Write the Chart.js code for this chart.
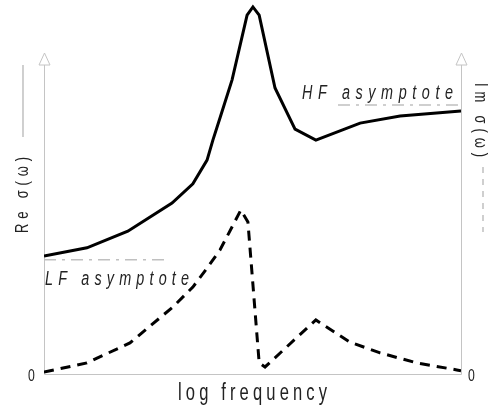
<!DOCTYPE html>
<html><head><meta charset="utf-8">
<script src="https://cdn.jsdelivr.net/npm/chart.js@4/dist/chart.umd.min.js"></script>
<style>html,body{margin:0;padding:0;background:#fff}canvas{display:block}</style>
</head><body>
<canvas id="c" width="503" height="406"></canvas>
<script>
// ---- data (log frequency on x, arbitrary units on y) ----
const freqRe = [0, 1.03, 2.01, 3.07, 3.57, 3.91, 4.05, 4.22, 4.51, 4.87, 5.01, 5.16, 5.54, 6.02, 6.52, 7.58, 8.54, 10];
const reSigma = [31.9, 34.1, 38.6, 46.2, 51.4, 57.8, 63.2, 69.2, 79.5, 97.0, 99.2, 97.0, 77.3, 66.2, 63.2, 67.8, 69.7, 71.1];
const freqIm = [0, 1.03, 2.06, 3.09, 3.57, 3.91, 4.22, 4.72, 4.89, 5.16, 5.30, 6.52, 7.34, 8.06, 8.94, 9.9, 10];
const imSigma = [0.5, 3.0, 8.4, 18.1, 23.5, 28.6, 33.5, 44.3, 41.1, 3.0, 1.9, 14.6, 8.6, 5.7, 3.0, 1.1, 0.9];
const lfAsymX = [0, 2.95];
const lfAsymValue = 30.9;
const hfAsymX = [7.05, 10];
const hfAsymValue = 72.7;
const xTitle = "log frequency";
const yLeftTitle = "Re σ(ω)";
const yRightTitle = "Im σ(ω)";
const lfLabel = "LF asymptote";
const hfLabel = "HF asymptote";
const zeroTick = "0";

const pts = (xs, ys) => xs.map((x, i) => ({x, y: ys[i]}));

function spaced(ctx, text, targetW, font, sx) {
  ctx.font = font;
  ctx.letterSpacing = '0px';
  const w = ctx.measureText(text).width;
  const n = [...text].length;
  const ls = (targetW / sx - w) / (n - 1);
  ctx.scale(sx, 1);
  ctx.letterSpacing = ls + 'px';
  ctx.fillText(text, 0, 0);
}

const decor = {
  id: 'decor',
  beforeDatasetsDraw(chart) {
    const ctx = chart.ctx;
    const xs = chart.scales.x, ys = chart.scales.y;
    const L = xs.getPixelForValue(0), R = xs.getPixelForValue(10), B = ys.getPixelForValue(0);
    const T = 53;
    ctx.save();
    ctx.strokeStyle = '#c4c4c4';
    ctx.lineWidth = 1;
    ctx.beginPath();
    ctx.moveTo(L + 0.5, T + 12); ctx.lineTo(L + 0.5, B + 0.5); ctx.lineTo(R + 0.5, B + 0.5); ctx.lineTo(R + 0.5, T + 12);
    ctx.stroke();
    [L, R].forEach(px => {
      ctx.beginPath();
      ctx.moveTo(px + 0.5, T); ctx.lineTo(px + 6, T + 12); ctx.lineTo(px - 5, T + 12); ctx.closePath();
      ctx.fillStyle = '#fff'; ctx.fill(); ctx.stroke();
    });
    // legend sample lines beside axis titles
    ctx.strokeStyle = '#b0b0b0';
    ctx.lineWidth = 1.2;
    ctx.beginPath(); ctx.moveTo(23, 65); ctx.lineTo(23, 137); ctx.stroke();
    ctx.setLineDash([6, 6]);
    ctx.beginPath(); ctx.moveTo(483, 167); ctx.lineTo(483, 232); ctx.stroke();
    ctx.setLineDash([]);
    ctx.restore();
  },
  afterDraw(chart) {
    const ctx = chart.ctx;
    const xs = chart.scales.x, ys = chart.scales.y;
    const B = ys.getPixelForValue(0);
    const fam = '"Liberation Sans", Arial, sans-serif';
    const sx = 0.72;
    ctx.save();
    ctx.fillStyle = '#222';
    ctx.textBaseline = 'alphabetic';
    ctx.textAlign = 'left';
    // zeros
    ctx.font = '17px ' + fam;
    ctx.save(); ctx.translate(28, B + 7); ctx.scale(sx, 1); ctx.fillText(zeroTick, 0, 0); ctx.restore();
    ctx.save(); ctx.translate(468, B + 7); ctx.scale(sx, 1); ctx.fillText(zeroTick, 0, 0); ctx.restore();
    // x title
    ctx.save(); ctx.translate(178, 400); spaced(ctx, xTitle, 149, '23px ' + fam, sx); ctx.restore();
    // left title
    ctx.save(); ctx.translate(28, 233); ctx.rotate(-Math.PI / 2); spaced(ctx, yLeftTitle, 76, '18px ' + fam, sx); ctx.restore();
    // right title
    ctx.save(); ctx.translate(475, 83); ctx.rotate(Math.PI / 2); spaced(ctx, yRightTitle, 74, '18px ' + fam, sx); ctx.restore();
    // asymptote labels
    ctx.save(); ctx.translate(xs.getPixelForValue(hfAsymX[0]) - 36, 99); spaced(ctx, hfLabel, 151, 'italic 20px ' + fam, sx); ctx.restore();
    ctx.save(); ctx.translate(xs.getPixelForValue(lfAsymX[0]) + 1, 285); spaced(ctx, lfLabel, 144, 'italic 20px ' + fam, sx); ctx.restore();
    ctx.restore();
  }
};

new Chart(document.getElementById('c'), {
  type: 'line',
  data: {
    datasets: [
      {label: 'LF asymptote', data: pts(lfAsymX, [lfAsymValue, lfAsymValue]), borderColor: '#c0c0c0', borderWidth: 1.5, borderDash: [12, 6, 3, 6], pointRadius: 0},
      {label: 'HF asymptote', data: pts(hfAsymX, [hfAsymValue, hfAsymValue]), borderColor: '#c0c0c0', borderWidth: 1.5, borderDash: [12, 6, 3, 6], pointRadius: 0},
      {label: yLeftTitle, data: pts(freqRe, reSigma), borderColor: '#000', borderWidth: 3, pointRadius: 0, tension: 0, borderJoinStyle: 'miter'},
      {label: yRightTitle, data: pts(freqIm, imSigma), borderColor: '#000', borderWidth: 3, borderDash: [10, 7], pointRadius: 0, tension: 0}
    ]
  },
  options: {
    responsive: false,
    devicePixelRatio: 1,
    animation: false,
    layout: {padding: {left: 44, right: 42, top: 4, bottom: 32}},
    plugins: {legend: {display: false}, tooltip: {enabled: false}},
    scales: {
      x: {type: 'linear', min: 0, max: 10, display: false},
      y: {type: 'linear', min: 0, max: 100, display: false}
    }
  },
  plugins: [decor]
});
</script>
</body></html>
